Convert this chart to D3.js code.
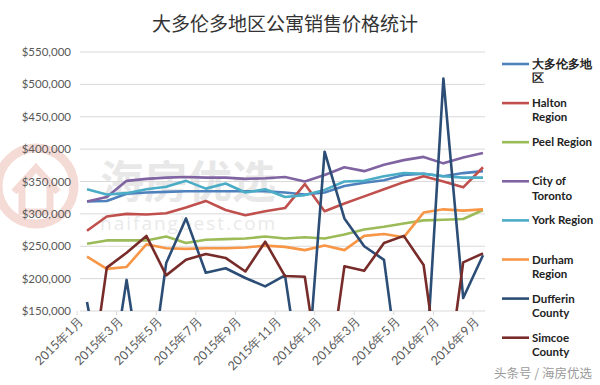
<!DOCTYPE html>
<html>
<head>
<meta charset="utf-8">
<script src="https://cdn.jsdelivr.net/npm/d3@7"></script>
<style>
  body { margin: 0; background: #fff; }
</style>
</head>
<body>
<div id="chart"></div>
<script>
var months = ["2015年1月", "2015年2月", "2015年3月", "2015年4月", "2015年5月", "2015年6月",
  "2015年7月", "2015年8月", "2015年9月", "2015年10月", "2015年11月", "2015年12月",
  "2016年1月", "2016年2月", "2016年3月", "2016年4月", "2016年5月", "2016年6月",
  "2016年7月", "2016年8月", "2016年9月"];

var yTicks = [150000, 200000, 250000, 300000, 350000, 400000, 450000, 500000, 550000];

// 0 = no sales that month (line drops below the axis)
var gta      = [319000, 320000, 331000, 333000, 334000, 335000, 335000, 335000, 335000, 335000, 333000, 330000, 333000, 343000, 348000, 352000, 360000, 362000, 358000, 363000, 366000];
var halton   = [274000, 296000, 300000, 299000, 301000, 310000, 320000, 306000, 298000, 304000, 309000, 346000, 304000, 316000, 327000, 338000, 349000, 358000, 350000, 341000, 372000];
var peel     = [254000, 259000, 259000, 259000, 265000, 255000, 260000, 261000, 262000, 265000, 262000, 264000, 262000, 268000, 276000, 280000, 285000, 290000, 291000, 292000, 306000];
var toronto  = [319000, 326000, 351000, 354000, 356000, 357000, 356000, 356000, 354000, 355000, 357000, 350000, 360000, 372000, 366000, 376000, 383000, 388000, 378000, 387000, 394000];
var york     = [338000, 330000, 332000, 338000, 342000, 351000, 339000, 347000, 333000, 338000, 326000, 329000, 337000, 350000, 351000, 358000, 363000, 362000, 358000, 356000, 356000];
var durham   = [234000, 215000, 218000, 253000, 247000, 246000, 247000, 247000, 248000, 251000, 249000, 244000, 251000, 244000, 266000, 269000, 264000, 302000, 307000, 305000, 307000];
var dufferin = [164000, 0, 198000, 0, 224000, 293000, 209000, 216000, 201000, 188000, 205000, 0, 396000, 293000, 250000, 229000, 0, 0, 509000, 170000, 236000];
var simcoe   = [0, 217000, 240000, 266000, 205000, 229000, 238000, 232000, 211000, 257000, 204000, 203000, 0, 219000, 212000, 255000, 266000, 221000, 0, 225000, 239000];

var seriesNames = ["大多伦多地区", "Halton Region", "Peel Region", "City of Toronto",
  "York Region", "Durham Region", "Dufferin County", "Simcoe County"];
var legendLines = [["大多伦多地", "区"], ["Halton", "Region"], ["Peel Region"], ["City of", "Toronto"],
  ["York Region"], ["Durham", "Region"], ["Dufferin", "County"], ["Simcoe", "County"]];
var colors = ["#4F81BD", "#C0504D", "#9BBB59", "#8064A2", "#4BACC6", "#F79646", "#2C4D75", "#772C2A"];
var values = [gta, halton, peel, toronto, york, durham, dufferin, simcoe];

var width = 600, height = 385;
var plot = {left: 80, right: 485, top: 52, bottom: 311};

var svg = d3.select("#chart")
  .append("svg")
  .attr("width", width)
  .attr("height", height)
  .style("font-family", "Lato, 'Open Sans', sans-serif");

var x = d3.scalePoint()
  .domain(months)
  .range([87, 483]);

var y = d3.scaleLinear()
  .domain([150000, 550000])
  .range([plot.bottom, plot.top]);

// watermark behind everything
var wm = svg.append("g").attr("opacity", 0.6);
wm.append("circle")
  .attr("cx", 36).attr("cy", 186).attr("r", 38)
  .attr("fill", "none").attr("stroke", "#f0c4bb").attr("stroke-width", 9);
wm.append("path")
  .attr("d", "M14,192 L36,168 L58,192 M22,186 L22,212 L50,212 L50,186")
  .attr("fill", "none").attr("stroke", "#f0c4bb").attr("stroke-width", 7);
wm.append("text")
  .attr("x", 100).attr("y", 198)
  .attr("font-family", "'Noto Sans CJK SC'")
  .attr("font-size", 44).attr("font-weight", "bold")
  .attr("fill", "#d9d9d9")
  .text("海房优选");
wm.append("text")
  .attr("x", 100).attr("y", 230)
  .attr("font-family", "'Open Sans'")
  .attr("font-size", 19).attr("letter-spacing", 2)
  .attr("fill", "#dcdcdc")
  .text("haifangbest.com");

// title
svg.append("text")
  .attr("x", 285).attr("y", 31)
  .attr("text-anchor", "middle")
  .attr("font-family", "'Noto Sans CJK SC'")
  .attr("font-size", 19)
  .attr("fill", "#333")
  .text("大多伦多地区公寓销售价格统计");

// gridlines
svg.append("g")
  .selectAll("line")
  .data(yTicks.slice(1))
  .enter().append("line")
  .attr("x1", plot.left).attr("x2", plot.right)
  .attr("y1", function(d) { return y(d); })
  .attr("y2", function(d) { return y(d); })
  .attr("stroke", "#d9d9d9");

// Y axis labels
svg.append("g")
  .selectAll("text")
  .data(yTicks)
  .enter().append("text")
  .attr("x", 71)
  .attr("y", function(d) { return y(d); })
  .attr("dy", "0.35em")
  .attr("text-anchor", "end")
  .attr("font-size", 11.5)
  .attr("fill", "#595959")
  .text(function(d) { return "$" + d3.format(",")(d); });

// X axis line + ticks between categories
var step = x.step();
svg.append("line")
  .attr("x1", plot.left).attr("x2", plot.right)
  .attr("y1", plot.bottom).attr("y2", plot.bottom)
  .attr("stroke", "#d9d9d9");

var labelled = months.filter(function(d, i) { return i % 2 === 0; });
svg.append("g")
  .selectAll("line")
  .data(labelled)
  .enter().append("line")
  .attr("x1", function(d) { return x(d) - step / 2; })
  .attr("x2", function(d) { return x(d) - step / 2; })
  .attr("y1", plot.bottom).attr("y2", plot.bottom + 4)
  .attr("stroke", "#d9d9d9");

svg.append("g")
  .selectAll("text")
  .data(labelled)
  .enter().append("text")
  .attr("transform", function(d) { return "translate(" + (x(d) - 6) + "," + (plot.bottom + 8) + ") rotate(-45)"; })
  .attr("dy", "0.35em")
  .attr("text-anchor", "end")
  .attr("font-size", 12.5)
  .attr("fill", "#595959")
  .text(function(d) { return d; });

// lines, clipped to the plot area
svg.append("clipPath")
  .attr("id", "plotClip")
  .append("rect")
  .attr("x", 0).attr("y", plot.top - 5)
  .attr("width", plot.right + 5).attr("height", plot.bottom - plot.top + 5);

var line = d3.line()
  .x(function(d, i) { return x(months[i]); })
  .y(function(d) { return y(d); });

svg.append("g")
  .attr("clip-path", "url(#plotClip)")
  .selectAll("path")
  .data(values)
  .enter().append("path")
  .attr("fill", "none")
  .attr("stroke", function(d, i) { return colors[i]; })
  .attr("stroke-width", 2.6)
  .attr("stroke-linejoin", "round")
  .attr("d", line);

// legend
var legend = svg.append("g")
  .selectAll("g")
  .data(seriesNames)
  .enter().append("g")
  .attr("transform", function(d, i) { return "translate(502," + (64 + i * 39.1) + ")"; });

legend.append("line")
  .attr("x1", 0).attr("x2", 27)
  .attr("stroke", function(d, i) { return colors[i]; })
  .attr("stroke-width", 2.6);

legend.append("text")
  .attr("x", 30)
  .attr("font-size", 11.5)
  .attr("font-weight", "bold")
  .attr("fill", "#222")
  .selectAll("tspan")
  .data(function(d, i) { return legendLines[i]; })
  .enter().append("tspan")
  .attr("x", 30)
  .attr("dy", function(d, j) { return j === 0 ? "0.35em" : "1.25em"; })
  .text(function(d) { return d; });

// source mark
svg.append("text")
  .attr("x", 592).attr("y", 378)
  .attr("text-anchor", "end")
  .attr("font-family", "'Noto Sans CJK SC'")
  .attr("font-size", 12.5)
  .attr("fill", "#9a9a9a")
  .text("头条号 / 海房优选");
</script>
</body>
</html>
